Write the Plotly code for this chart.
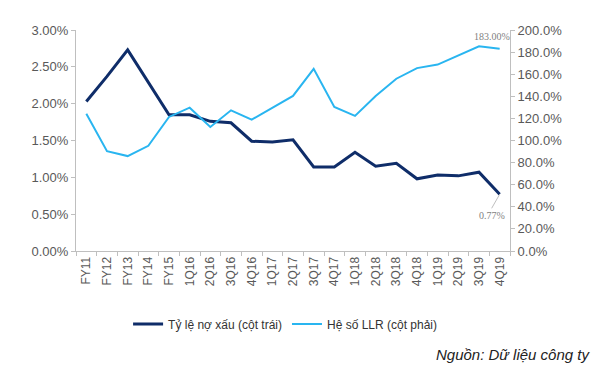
import plotly.graph_objects as go

categories = ["FY11", "FY12", "FY13", "FY14", "FY15", "1Q16", "2Q16", "3Q16", "4Q16",
              "1Q17", "2Q17", "3Q17", "4Q17", "1Q18", "2Q18", "3Q18", "4Q18",
              "1Q19", "2Q19", "3Q19", "4Q19"]
npl_ratio = [2.03, 2.37, 2.73, 2.29, 1.85, 1.85, 1.76, 1.74, 1.49,
             1.48, 1.51, 1.14, 1.14, 1.34, 1.15, 1.19, 0.98,
             1.03, 1.02, 1.07, 0.77]
llr_ratio = [124.3, 90.4, 85.9, 95.2, 121.3, 129.7, 112.3, 127.3, 118.9,
             129.4, 140.3, 164.9, 130.4, 122.3, 140.3, 155.9, 165.5,
             168.7, 176.9, 185.3, 183.0]
left_ticks = [0, 0.5, 1.0, 1.5, 2.0, 2.5, 3.0]
right_ticks = [0, 20, 40, 60, 80, 100, 120, 140, 160, 180, 200]

navy = "#0F2D69"
sky = "#29B5F0"
grey = "#595959"

fig = go.Figure()
fig.add_trace(go.Scatter(x=categories, y=npl_ratio, mode="lines",
                         name="Tỷ lệ nợ xấu (cột trái)",
                         line=dict(color=navy, width=3), yaxis="y"))
fig.add_trace(go.Scatter(x=categories, y=llr_ratio, mode="lines",
                         name="Hệ số LLR (cột phải)",
                         line=dict(color=sky, width=2), yaxis="y2"))

fig.add_annotation(x=categories[-1], y=llr_ratio[-1], yref="y2",
                   text=f"{llr_ratio[-1]:.2f}%", showarrow=False,
                   xshift=-8, yshift=12,
                   font=dict(size=10, color="#7F7F7F", family="Liberation Serif"))
fig.add_annotation(x=categories[-1], y=npl_ratio[-1], yref="y",
                   text=f"{npl_ratio[-1]:.2f}%", showarrow=True,
                   arrowhead=0, arrowwidth=1, arrowcolor="#BFBFBF",
                   ax=-8, ay=14, xanchor="center", yanchor="top",
                   font=dict(size=10, color="#7F7F7F", family="Liberation Serif"))

fig.add_annotation(x=1.19, y=-0.47, xref="paper", yref="paper",
                   xanchor="right", yanchor="middle", showarrow=False,
                   text="<i>Nguồn: Dữ liệu công ty</i>",
                   font=dict(size=15, color="#222222", family="Liberation Sans"))

fig.update_layout(
    width=605, height=376,
    margin=dict(l=68, r=103, t=22, b=133),
    paper_bgcolor="white", plot_bgcolor="white",
    font=dict(family="Liberation Sans", color=grey, size=12),
    showlegend=True,
    legend=dict(orientation="h", x=0.12, y=-0.33, xanchor="left", yanchor="middle",
                font=dict(size=12, color="#333333"), itemwidth=30,
                tracegroupgap=0),
    xaxis=dict(type="category", range=[-0.5, len(categories) - 0.5],
               tickangle=-90, tickfont=dict(size=12, color=grey),
               showline=True, linecolor="#BFBFBF", linewidth=1,
               ticks="outside", ticklen=4, tickcolor="#BFBFBF",
               tickson="boundaries", showgrid=False, zeroline=False),
    yaxis=dict(range=[0, 3.0], tickvals=left_ticks,
               ticktext=[f"{v:.2f}%" for v in left_ticks],
               showline=True, linecolor="#BFBFBF", linewidth=1,
               ticks="outside", ticklen=4, tickcolor="#BFBFBF",
               showgrid=False, zeroline=False, tickfont=dict(size=13, color=grey)),
    yaxis2=dict(range=[0, 200], tickvals=right_ticks,
                ticktext=[f"{v:.1f}%" for v in right_ticks],
                overlaying="y", side="right",
                showline=True, linecolor="#BFBFBF", linewidth=1,
                ticks="outside", ticklen=4, tickcolor="#BFBFBF",
                showgrid=False, zeroline=False, tickfont=dict(size=13, color=grey)),
)

fig.write_html("out.html")
